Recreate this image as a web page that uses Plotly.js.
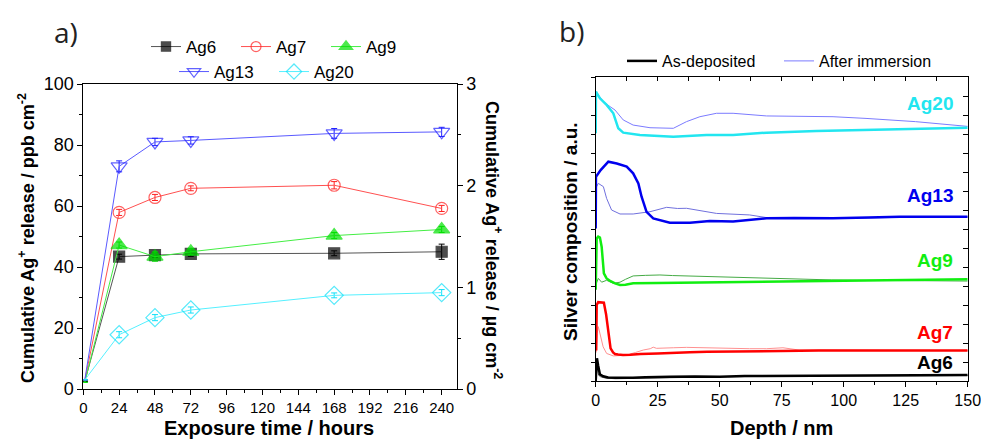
<!DOCTYPE html>
<html><head><meta charset="utf-8">
<script src="https://cdn.plot.ly/plotly-3.0.1.min.js"></script>
<style>html,body{margin:0;padding:0;background:#fff;}#chart{width:981px;height:444px;}</style>
</head><body><div id="chart"></div>
<script>
// ---------- Panel a: cumulative Ag+ release ----------
const hours = [1, 24, 48, 72, 168, 240];
const ag6Rel  = [2.5, 43.4, 43.9, 44.3, 44.5, 45.0];
const ag7Rel  = [2.8, 57.9, 62.8, 65.8, 66.8, 59.2];
const ag9Rel  = [2.2, 47.2, 43.4, 45.0, 50.3, 52.3];
const ag13Rel = [3.0, 73.0, 81.0, 81.5, 83.8, 84.3];
const ag20Rel = [3.0, 17.8, 23.4, 25.9, 30.7, 31.6];
const ag6Err  = [0, 0.8, 0.8, 0.8, 0.8, 2.5];
const ag7Err  = [0, 1.0, 1.0, 0.8, 1.2, 1.0];
const ag9Err  = [0, 1.0, 1.5, 1.0, 1.0, 1.0];
const ag13Err = [0, 1.8, 1.2, 1.2, 1.6, 1.5];
const ag20Err = [0, 1.0, 1.0, 1.0, 0.8, 1.0];
const hourTicks = [0, 24, 48, 72, 96, 120, 144, 168, 192, 216, 240];

// ---------- Panel b: depth profiles ----------
const ag6DepX = [0, 0.2, 0.5, 1.0, 1.7, 3, 5, 8, 11, 15, 20, 25, 30, 40, 50, 60, 75, 90, 100, 115, 130, 140, 150];
const ag6DepY = [0, 0.6, 1.2, 0.8, 0.35, 0.25, 0.18, 0.17, 0.16, 0.17, 0.2, 0.22, 0.22, 0.24, 0.23, 0.26, 0.27, 0.28, 0.29, 0.3, 0.31, 0.31, 0.32];
const ag6ImmX = [0, 0.3, 0.7, 1.2, 2, 4, 8, 12, 20, 30, 50, 75, 100, 125, 150];
const ag6ImmY = [0, 0.9, 0.6, 0.3, 0.22, 0.15, 0.12, 0.13, 0.16, 0.2, 0.22, 0.25, 0.26, 0.28, 0.29];

const ag7DepX = [0.2, 0.4, 1.0, 2.0, 3.3, 4.2, 5.1, 6.0, 7.0, 7.8, 9, 11, 14, 18, 25, 31, 38, 45, 55, 65, 75, 90, 110, 130, 150];
const ag7DepY = [1.6, 4.0, 4.15, 4.15, 4.12, 3.5, 2.68, 1.72, 1.5, 1.42, 1.39, 1.37, 1.38, 1.42, 1.45, 1.49, 1.51, 1.54, 1.56, 1.57, 1.6, 1.6, 1.6, 1.59, 1.6];
const ag7ImmX = [0.2, 0.6, 1.05, 1.8, 3, 4.4, 7.1, 10, 12.5, 16, 19.2, 22, 23.2, 24.5, 27, 31.3, 36.6, 42, 48.7, 55, 62, 68.9, 75.5, 82, 95, 110, 130, 150];
const ag7ImmY = [1.5, 2.5, 2.86, 2.4, 1.8, 1.45, 1.32, 1.34, 1.37, 1.5, 1.63, 1.7, 1.78, 1.72, 1.74, 1.75, 1.77, 1.75, 1.72, 1.71, 1.7, 1.7, 1.75, 1.63, 1.62, 1.6, 1.61, 1.6];

const ag9DepX = [0, 0.4, 1.0, 1.7, 2.4, 3.3, 4.4, 6, 7.8, 9.8, 12, 15.1, 25, 42, 60, 82, 100, 120, 135, 150];
const ag9DepY = [4.8, 7.5, 7.6, 7.55, 7.07, 5.67, 5.4, 5.25, 5.14, 5.05, 5.07, 5.14, 5.16, 5.19, 5.22, 5.26, 5.28, 5.3, 5.33, 5.35];
const ag9ImmX = [0, 1.05, 2.4, 4.4, 7.1, 9.8, 12, 15.1, 20, 25.9, 31, 36.6, 42, 48.7, 60, 68.9, 82, 95, 109, 130, 150];
const ag9ImmY = [5.05, 5.4, 5.2, 5.3, 5.14, 5.2, 5.35, 5.53, 5.56, 5.58, 5.55, 5.53, 5.5, 5.46, 5.43, 5.4, 5.35, 5.32, 5.3, 5.28, 5.26];

const ag13DepX = [0, 0.1, 2, 5.1, 8.5, 12.5, 15.1, 17.2, 18.5, 20.5, 23.2, 29.9, 38, 46, 55.4, 68.9, 80, 95.6, 110, 122.6, 135, 150];
const ag13DepY = [8.03, 10.75, 11.1, 11.54, 11.45, 11.28, 10.93, 10.4, 9.7, 8.9, 8.56, 8.33, 8.33, 8.42, 8.39, 8.56, 8.58, 8.56, 8.6, 8.65, 8.64, 8.65];
const ag13ImmX = [0, 1.05, 3.1, 4.4, 6.4, 9.8, 15.1, 21.9, 28.6, 33, 36.6, 44.7, 48.7, 62.1, 68.9, 80, 100, 125, 150];
const ag13ImmY = [10.14, 10.4, 10.23, 9.61, 9.0, 8.79, 8.79, 8.91, 9.14, 9.08, 9.09, 8.91, 8.82, 8.74, 8.6, 8.58, 8.56, 8.62, 8.64];

const ag20DepX = [0, 0.1, 1.7, 4.4, 7.1, 9.1, 11.1, 17.8, 31.3, 44.7, 55.4, 68.9, 89, 115.8, 135, 150];
const ag20DepY = [13.04, 15.23, 14.88, 14.53, 14.09, 13.3, 13.07, 12.95, 12.86, 12.95, 12.95, 13.07, 13.16, 13.25, 13.3, 13.33];
const ag20ImmX = [0.1, 3.1, 5.8, 7.8, 11.1, 15.1, 21.9, 31.3, 36.6, 42, 48.7, 55.4, 68.9, 95.7, 109, 129, 150];
const ag20ImmY = [15.23, 14.7, 14.44, 14.26, 13.74, 13.47, 13.33, 13.3, 13.65, 13.91, 14.09, 14.09, 13.95, 13.91, 13.82, 13.65, 13.4];

const sampleNames = ['Ag6', 'Ag7', 'Ag9', 'Ag13', 'Ag20'];
const labelY = [0.95, 2.53, 6.33, 9.75, 14.63];
const labelColors = ['#000000', '#ff0000', '#11ee11', '#0000ee', '#22e6f0'];

const FONT = 'Arial, "Liberation Sans", sans-serif';

function relTrace(name, y, err, lineColor, mColor, symbol, size, legend) {
  return {
    x: hours, y: y, name: name, type: 'scatter', mode: 'lines+markers',
    xaxis: 'x', yaxis: 'y', legend: legend,
    line: {color: lineColor, width: 1},
    marker: {symbol: symbol, size: hours.map((h, i) => i === 0 ? 0 : size), color: mColor,
             line: {color: mColor, width: 1.2}},
    error_y: {type: 'data', array: err, visible: true, color: mColor, thickness: 1, width: 3}
  };
}

const traces = [
  relTrace('Ag6', ag6Rel, ag6Err, '#555555', '#000000', 'square', 11, 'legend'),
  relTrace('Ag7', ag7Rel, ag7Err, '#ff5050', '#ff2020', 'circle-open', 12, 'legend'),
  relTrace('Ag9', ag9Rel, ag9Err, '#44ee44', '#00e000', 'triangle-up', 14, 'legend'),
  relTrace('Ag13', ag13Rel, ag13Err, '#5a5aff', '#2020ff', 'triangle-down-open', 14, 'legend2'),
  relTrace('Ag20', ag20Rel, ag20Err, '#55f0ff', '#10e0f8', 'diamond-open', 14, 'legend2'),
  // empty helper traces so the secondary / mirror axes are drawn
  {x: [], y: [], type: 'scatter', mode: 'lines', xaxis: 'x', yaxis: 'y2', showlegend: false, hoverinfo: 'skip'},
  {x: [], y: [], type: 'scatter', mode: 'lines', xaxis: 'x3', yaxis: 'y3', showlegend: false, hoverinfo: 'skip'},
  {x: [], y: [], type: 'scatter', mode: 'lines', xaxis: 'x2', yaxis: 'y4', showlegend: false, hoverinfo: 'skip'},
];

function depTrace(x, y, color, width, name, show) {
  return {x: x, y: y, type: 'scatter', mode: 'lines', xaxis: 'x2', yaxis: 'y3',
          line: {color: color, width: width}, name: name, showlegend: show, legend: 'legend3'};
}
traces.push(
  depTrace(ag6ImmX, ag6ImmY, '#606060', 1, 'Ag6 after', false),
  depTrace(ag7ImmX, ag7ImmY, '#ff9090', 1, 'Ag7 after', false),
  depTrace(ag9ImmX, ag9ImmY, '#44aa44', 1, 'Ag9 after', false),
  depTrace(ag13ImmX, ag13ImmY, '#7070dd', 1, 'Ag13 after', false),
  depTrace(ag6DepX, ag6DepY, '#000000', 2.5, 'As-deposited', true),
  depTrace(ag7DepX, ag7DepY, '#ff0000', 2.5, 'Ag7 dep', false),
  depTrace(ag9DepX, ag9DepY, '#11ee11', 2.5, 'Ag9 dep', false),
  depTrace(ag13DepX, ag13DepY, '#0000ee', 2.5, 'Ag13 dep', false),
  depTrace(ag20ImmX, ag20ImmY, '#7b7bff', 1, 'After immersion', true),
  depTrace(ag20DepX, ag20DepY, '#22e6f0', 2.5, 'Ag20 dep', false)
);

const domA = [83.3 / 981, 456.6 / 981];
const domAy = [(444 - 389) / 444, (444 - 84) / 444];
const domB = [595.7 / 981, 967.7 / 981];
const domBy = [(444 - 381) / 444, (444 - 77) / 444];

const annotations = [
  {text: 'a)', x: 52 / 981, y: 1 - 32 / 444, xref: 'paper', yref: 'paper', xanchor: 'left', yanchor: 'middle',
   showarrow: false, font: {family: '"Open Sans", sans-serif', size: 28, color: '#222'}},
  {text: 'b)', x: 557 / 981, y: 1 - 31 / 444, xref: 'paper', yref: 'paper', xanchor: 'left', yanchor: 'middle',
   showarrow: false, font: {family: '"Open Sans", sans-serif', size: 28, color: '#222'}},
  {text: '<b>Exposure time / hours</b>', x: 269 / 981, y: 1 - 428 / 444, xref: 'paper', yref: 'paper',
   xanchor: 'center', yanchor: 'middle', showarrow: false, font: {family: FONT, size: 20, color: '#000'}},
  {text: '<b>Cumulative Ag<sup>+</sup> release / ppb cm<sup>-2</sup></b>', x: 27 / 981, y: 1 - 238 / 444,
   xref: 'paper', yref: 'paper', xanchor: 'center', yanchor: 'middle', textangle: -90, showarrow: false,
   font: {family: FONT, size: 18, color: '#000'}},
  {text: '<b>Cumulative Ag<sup>+</sup> release / µg cm<sup>-2</sup></b>', x: 494 / 981, y: 1 - 240 / 444,
   xref: 'paper', yref: 'paper', xanchor: 'center', yanchor: 'middle', textangle: 90, showarrow: false,
   font: {family: FONT, size: 18, color: '#000'}},
  {text: '<b>Silver composition / a.u.</b>', x: 570 / 981, y: 1 - 232 / 444,
   xref: 'paper', yref: 'paper', xanchor: 'center', yanchor: 'middle', textangle: -90, showarrow: false,
   font: {family: FONT, size: 19, color: '#000'}},
  {text: '<b>Depth / nm</b>', x: 781 / 981, y: 1 - 428 / 444, xref: 'paper', yref: 'paper',
   xanchor: 'center', yanchor: 'middle', showarrow: false, font: {family: FONT, size: 20, color: '#000'}},
];
sampleNames.forEach((n, i) => annotations.push({
  text: '<b>' + n + '</b>', x: 145, y: labelY[i], xref: 'x2', yref: 'y3', xanchor: 'right', yanchor: 'middle',
  showarrow: false, font: {family: FONT, size: 19, color: labelColors[i]}
}));

const axisCommon = {showgrid: false, zeroline: false, linecolor: '#000', linewidth: 1, tickcolor: '#000',
                    tickfont: {family: FONT, size: 15, color: '#000'}, ticklabeloverflow: 'allow'};

const layout = {
  width: 981, height: 444, margin: {l: 0, r: 0, t: 0, b: 0},
  paper_bgcolor: '#fff', plot_bgcolor: 'rgba(0,0,0,0)',
  font: {family: FONT, color: '#000'},
  xaxis: Object.assign({}, axisCommon, {domain: domA, range: [0, 250], anchor: 'y', showline: true, mirror: true,
    tickvals: hourTicks, ticks: 'outside', ticklen: 5,
    minor: {dtick: 12, tick0: 0, ticks: 'outside', ticklen: 3, tickcolor: '#000'}}),
  yaxis: Object.assign({}, axisCommon, {domain: domAy, range: [0, 100], anchor: 'x', showline: true,
    dtick: 20, ticks: 'outside', ticklen: 5, tickfont: {family: FONT, size: 18, color: '#000'},
    minor: {dtick: 10, ticks: 'outside', ticklen: 3, tickcolor: '#000'}}),
  yaxis2: Object.assign({}, axisCommon, {domain: domAy, range: [0, 3], anchor: 'x', overlaying: 'y', side: 'right',
    showline: true, dtick: 1, ticks: 'outside', ticklen: 5, tickfont: {family: FONT, size: 18, color: '#000'},
    minor: {dtick: 0.5, ticks: 'outside', ticklen: 3, tickcolor: '#000'}}),
  xaxis2: Object.assign({}, axisCommon, {domain: domB, range: [0, 150], anchor: 'y3', showline: true, mirror: true,
    dtick: 25, ticks: 'outside', ticklen: 5, tickfont: {family: FONT, size: 16, color: '#000'},
    minor: {dtick: 12.5, ticks: 'outside', ticklen: 3, tickcolor: '#000'}}),
  xaxis3: Object.assign({}, axisCommon, {domain: domB, range: [0, 150], anchor: 'y3', overlaying: 'x2', side: 'top',
    showline: false, dtick: 12.5, ticks: 'inside', ticklen: 4, showticklabels: false}),
  yaxis3: Object.assign({}, axisCommon, {domain: domBy, range: [0, 16], anchor: 'x2', showline: true, mirror: true,
    dtick: 1, ticks: 'outside', ticklen: 4, showticklabels: false}),
  yaxis4: Object.assign({}, axisCommon, {domain: domBy, range: [0, 16], anchor: 'x2', overlaying: 'y3', side: 'right',
    showline: false, dtick: 1, ticks: 'inside', ticklen: 5, showticklabels: false}),
  legend: {orientation: 'h', x: 146 / 981, y: 1 - 47 / 444, xanchor: 'left', yanchor: 'middle',
    bgcolor: 'rgba(0,0,0,0)', entrywidth: 45, entrywidthmode: 'pixels',
    font: {family: FONT, size: 17, color: '#000'}, itemwidth: 30, tracegroupgap: 0},
  legend2: {orientation: 'h', x: 174 / 981, y: 1 - 72 / 444, xanchor: 'left', yanchor: 'middle',
    bgcolor: 'rgba(0,0,0,0)', entrywidth: 55, entrywidthmode: 'pixels',
    font: {family: FONT, size: 17, color: '#000'}, itemwidth: 30},
  legend3: {orientation: 'h', x: 622 / 981, y: 1 - 61 / 444, xanchor: 'left', yanchor: 'middle',
    bgcolor: 'rgba(0,0,0,0)', entrywidth: 112, entrywidthmode: 'pixels',
    font: {family: FONT, size: 16, color: '#000'}, itemwidth: 30},
  annotations: annotations,
  showlegend: true
};

Plotly.newPlot('chart', traces, layout, {staticPlot: true, displayModeBar: false});
</script>
</body></html>
